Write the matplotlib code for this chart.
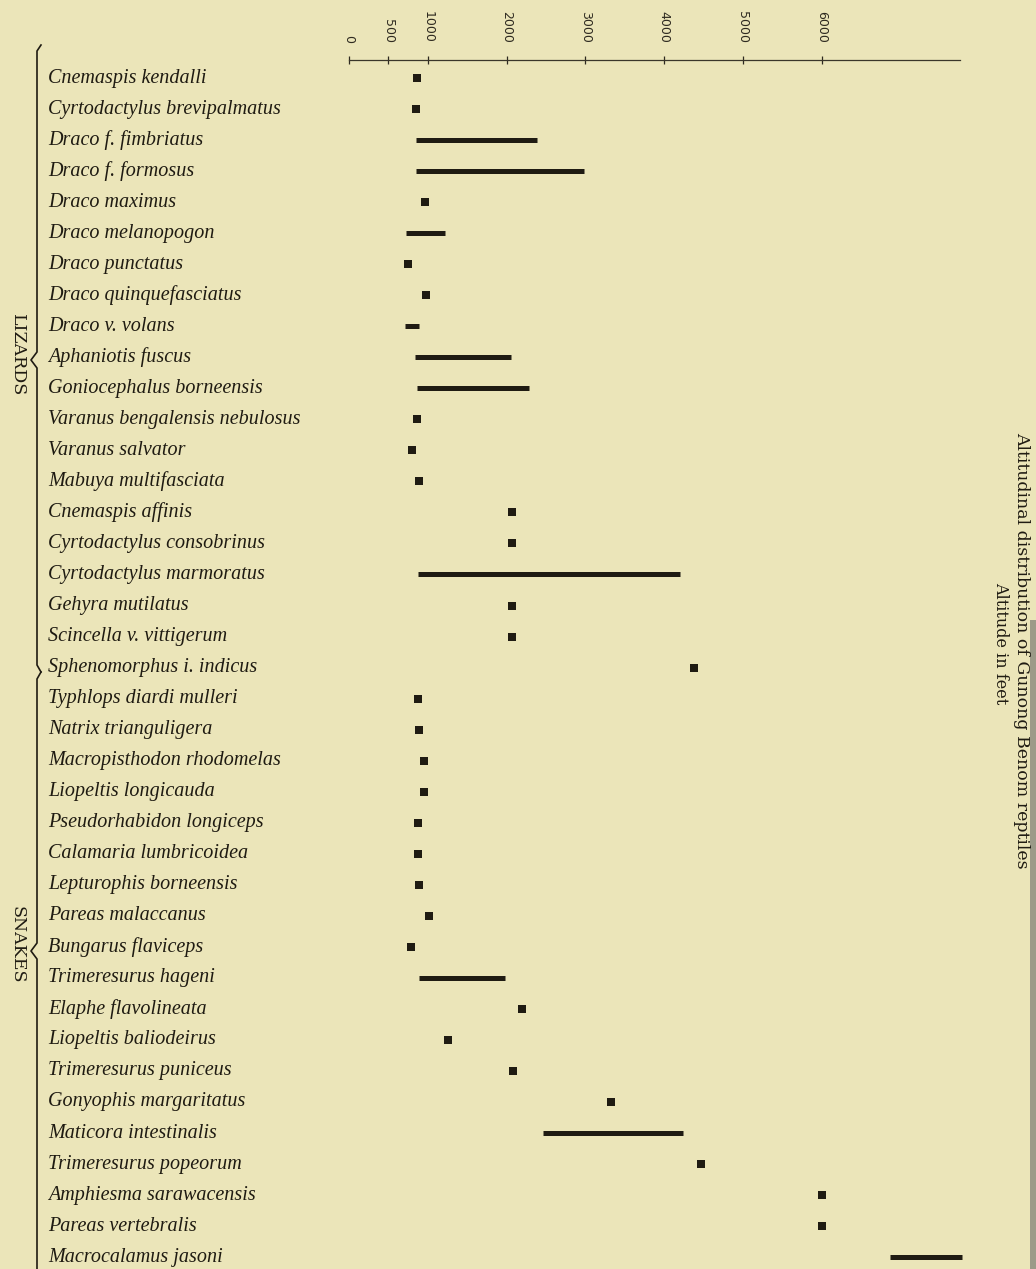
import matplotlib
matplotlib.use("Agg")
import matplotlib.pyplot as plt

# altitude ranges (feet); equal low/high = single record
species = [
    "Cnemaspis kendalli", "Cyrtodactylus brevipalmatus", "Draco f. fimbriatus",
    "Draco f. formosus", "Draco maximus", "Draco melanopogon", "Draco punctatus",
    "Draco quinquefasciatus", "Draco v. volans", "Aphaniotis fuscus",
    "Goniocephalus borneensis", "Varanus bengalensis nebulosus", "Varanus salvator",
    "Mabuya multifasciata", "Cnemaspis affinis", "Cyrtodactylus consobrinus",
    "Cyrtodactylus marmoratus", "Gehyra mutilatus", "Scincella v. vittigerum",
    "Sphenomorphus i. indicus", "Typhlops diardi mulleri", "Natrix trianguligera",
    "Macropisthodon rhodomelas", "Liopeltis longicauda", "Pseudorhabidon longiceps",
    "Calamaria lumbricoidea", "Lepturophis borneensis", "Pareas malaccanus",
    "Bungarus flaviceps", "Trimeresurus hageni", "Elaphe flavolineata",
    "Liopeltis baliodeirus", "Trimeresurus puniceus", "Gonyophis margaritatus",
    "Maticora intestinalis", "Trimeresurus popeorum", "Amphiesma sarawacensis",
    "Pareas vertebralis", "Macrocalamus jasoni",
]
low_ft = [860, 850, 850, 850, 965, 725, 750, 975, 710, 840,
          865, 860, 800, 890, 2070, 2070, 875, 2070, 2070, 4380,
          875, 890, 950, 950, 875, 875, 890, 1015, 785, 890,
          2195, 1255, 2080, 3325, 2460, 4465, 6000, 6000, 6865]
high_ft = [860, 850, 2385, 2980, 965, 1220, 750, 975, 890, 2055,
           2285, 860, 800, 890, 2070, 2070, 4200, 2070, 2070, 4380,
           875, 890, 950, 950, 875, 875, 890, 1015, 785, 1980,
           2195, 1255, 2080, 3325, 4240, 4465, 6000, 6000, 7780]
groups = ["LIZARDS", "SNAKES"]
tick_ft = [0, 500, 1000, 2000, 3000, 4000, 5000, 6000]
title = "Altitudinal distribution of Gunong Benom reptiles"
subtitle = "Altitude in feet"

W, H = 1036, 1269
paper = "#ebe5b9"
ink = "#1f1b12"

# page layout (pixels)
x0_px, px_per_1000 = 349, 78.8
axis_px = 60
row0_px, row_step = 78, 31.03

fig = plt.figure(figsize=(W / 100, H / 100), dpi=100, facecolor=paper)

ax = fig.add_axes([0, 0, 1, 1 - axis_px / H])
ax.set_facecolor("none")
ax.set_xlim(-x0_px / px_per_1000 * 1000, (W - x0_px) / px_per_1000 * 1000)
ax.set_ylim((H - row0_px) / row_step, (axis_px - row0_px) / row_step)

rows = list(range(len(species)))
for r, name in zip(rows, species):
    ax.text(48 / W, r, name, transform=ax.get_yaxis_transform(),
            ha="left", va="center", fontsize=14.5, style="italic",
            family="Liberation Serif", color=ink)

bar_rows = [r for r in rows if high_ft[r] > low_ft[r]]
pt_rows = [r for r in rows if high_ft[r] == low_ft[r]]
ax.hlines(bar_rows, [low_ft[r] for r in bar_rows], [high_ft[r] for r in bar_rows],
          color=ink, lw=3.6, capstyle="butt")
ax.plot([low_ft[r] for r in pt_rows], pt_rows, "s", ms=5.6, color=ink, mew=0)

for s in ["left", "right", "bottom"]:
    ax.spines[s].set_visible(False)
ax.spines["top"].set_bounds(0, 7750)
ax.spines["top"].set_color("#3a362a")
ax.spines["top"].set_linewidth(0.9)
ax.xaxis.tick_top()
ax.set_xticks(tick_ft)
ax.set_xticklabels([str(t) for t in tick_ft])
ax.tick_params(axis="x", direction="inout", length=6, width=0.9, pad=9,
               labelrotation=-90, labelsize=9, colors="#2e2a20")
ax.set_yticks([])

# overlay in page pixels for braces, group names and side title
ov = fig.add_axes([0, 0, 1, 1])
ov.set_xlim(0, W)
ov.set_ylim(H, 0)
ov.axis("off")

# page edge shadow on the right
ov.fill_between([1030, W], 620, H, color="#9c9a88", lw=0)

bx = 37
lx = [bx + 4, bx, bx, bx - 6, bx, bx, bx + 4]
ly = [45, 51, 352, 360, 368, 665, 672]
ov.plot(lx, ly, color=ink, lw=1.2)
sx = [bx + 4, bx, bx, bx - 6, bx, bx]
sy = [672, 679, 943, 951, 959, H]
ov.plot(sx, sy, color=ink, lw=1.2)

ov.text(17, 355, groups[0], rotation=-90, ha="center", va="center",
        family="DejaVu Serif", fontsize=12.5, color=ink)
ov.text(17, 945, groups[1], rotation=-90, ha="center", va="center",
        family="DejaVu Serif", fontsize=12.5, color=ink)

ov.text(1022, 650, title, rotation=-90, ha="center", va="center",
        family="DejaVu Serif", fontsize=12.5, color=ink)
ov.text(1001, 643, subtitle, rotation=-90, ha="center", va="center",
        family="DejaVu Serif", fontsize=11.5, color=ink)

fig.savefig("out.png", dpi=100, facecolor=paper)
